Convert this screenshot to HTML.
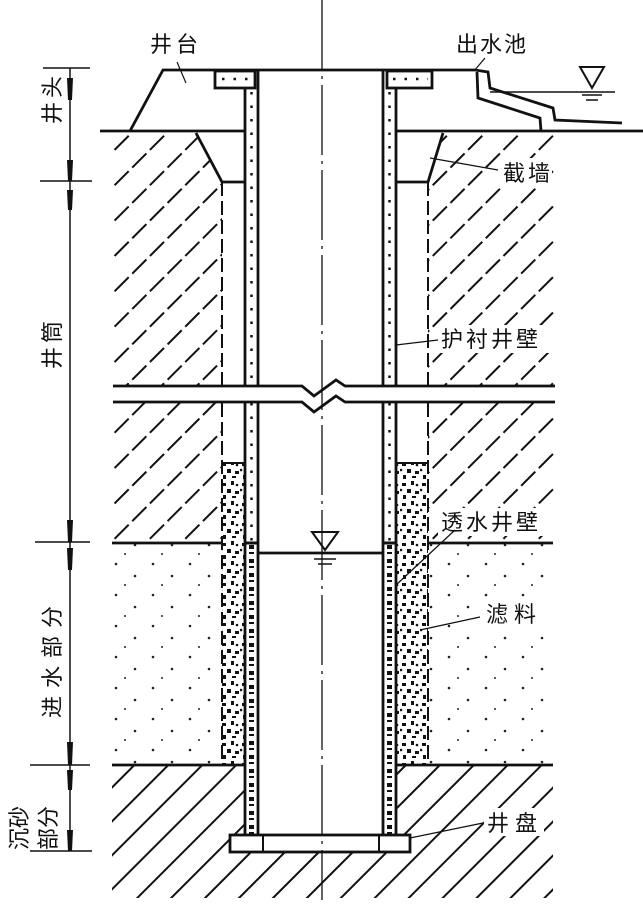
<!DOCTYPE html>
<html><head><meta charset="utf-8"><style>
html,body{margin:0;padding:0;background:#fff;}
svg{display:block}
text{font-family:"Liberation Sans","Noto Sans CJK SC",sans-serif;font-size:22px;fill:#111;}
</style></head><body>
<svg width="643" height="909" viewBox="0 0 643 909" xmlns="http://www.w3.org/2000/svg">
<defs>
<pattern id="hatch" width="25" height="25" patternUnits="userSpaceOnUse" patternTransform="rotate(-45)">
<line x1="0" y1="12" x2="20" y2="12" stroke="#111" stroke-width="2"/>
</pattern>
<pattern id="hatch2" width="24" height="24" patternUnits="userSpaceOnUse" patternTransform="rotate(-45) translate(8,0)">
<line x1="0" y1="12" x2="24" y2="12" stroke="#111" stroke-width="2"/>
</pattern>
<pattern id="gravel" width="20" height="20" patternUnits="userSpaceOnUse">
<rect x="2" y="3" width="4" height="3" fill="#111"/><rect x="11" y="1" width="3" height="4" fill="#111"/>
<rect x="7" y="9" width="4" height="4" fill="#111"/><rect x="15" y="11" width="4" height="3" fill="#111"/>
<rect x="3" y="15" width="3" height="4" fill="#111"/><rect x="12" y="16" width="4" height="2" fill="#111"/>
<circle cx="17" cy="5" r="1.3" fill="#111"/><circle cx="1" cy="10" r="1.3" fill="#111"/>
</pattern>
<pattern id="sand" width="37" height="31" patternUnits="userSpaceOnUse">
<circle cx="5" cy="6" r="1.3" fill="#222"/><circle cx="24" cy="18" r="1.3" fill="#222"/><circle cx="14" cy="27" r="1" fill="#222"/>
</pattern>
</defs>
<!-- hatch regions -->
<path d="M112,133 L196,133 L222,182 L222,386 L112,386 Z" fill="url(#hatch)"/>
<path d="M112,403 L222,403 L222,542 L112,542 Z" fill="url(#hatch)"/>
<path d="M443,133 L555,133 L555,386 L428,386 L428,182 Z" fill="url(#hatch)"/>
<path d="M428,403 L555,403 L555,542 L428,542 Z" fill="url(#hatch)"/>
<path d="M112,766 L245,766 L245,835 L230,835 L230,852 L410,852 L410,835 L396,835 L396,766 L553,766 L553,898 L112,898 Z" fill="url(#hatch2)"/>
<!-- sand -->
<rect x="112" y="544" width="110" height="220" fill="url(#sand)"/>
<rect x="428" y="544" width="125" height="220" fill="url(#sand)"/>
<!-- gravel -->
<rect x="222" y="463" width="23" height="302" fill="url(#gravel)"/>
<rect x="396" y="463" width="32" height="302" fill="url(#gravel)"/>
<!-- liner dots -->
<g stroke="#111" fill="none">
<path d="M251.5,92 V386 M251.5,403 V543 M389.5,92 V386 M389.5,403 V543" stroke-width="2.5" stroke-dasharray="2.5,11"/>
<path d="M251.5,545 V835 M389.5,545 V835" stroke-width="5" stroke-dasharray="4,3,2,5"/>
<path d="M222,79 H252 M393,79 H428" stroke-width="2.5" stroke-dasharray="2.5,9"/>
</g>
<g stroke="#111" fill="none" stroke-width="2.8">
<!-- top platform -->
<path d="M130,131 L163,70 L475,70 L488,72 L490,88 L553,108 L555,120 L622,123"/>
<path d="M477,72 L478,98 L540,118 L541,131"/>
<line x1="490" y1="92" x2="615" y2="92" stroke-width="1.5"/>
<path d="M580,67 L604,67 L592,88 Z" stroke-width="2"/>
<line x1="582" y1="95" x2="602" y2="95" stroke-width="1.5"/><line x1="586" y1="100" x2="598" y2="100" stroke-width="1.5"/>
<!-- ground -->
<line x1="100" y1="131" x2="245" y2="131"/>
<line x1="396" y1="131" x2="643" y2="131"/>
<!-- slabs -->
<rect x="215" y="71" width="40" height="17"/>
<rect x="387" y="71" width="45" height="17"/>
<!-- collars -->
<path d="M196,133 L222,182 L245,182"/>
<path d="M443,133 L428,182 L396,182"/>
<!-- well walls -->
<path d="M245,88 V386 M258,70 V386 M245,403 V835 M258,403 V835"/>
<path d="M383,70 V386 M396,88 V386 M383,403 V835 M396,403 V835"/>
<!-- dashed outer lines -->
<path d="M222,182 V386 M222,403 V765 M428,182 V386 M428,403 V765" stroke-width="2" stroke-dasharray="14,5"/>
<!-- filter top -->
<path d="M222,463 H245 M396,463 H428" stroke-width="2"/>
<!-- break lines -->
<path d="M113,386 L302,386 L314,396 L336,380 L345,386 L555,386"/>
<path d="M113,402 L302,402 L314,412 L336,396 L345,402 L555,402"/>
<!-- sand boundaries -->
<path d="M112,543 H222 M428,543 H553"/>
<path d="M112,765 H245 M396,765 H553"/>
<path d="M245,543 H258 M383,543 H396" stroke-width="3"/>
<!-- water level -->
<line x1="258" y1="553" x2="383" y2="553"/>
<path d="M312,532 L338,532 L325,550 Z" stroke-width="2"/>
<line x1="314" y1="559" x2="336" y2="559" stroke-width="1.5"/><line x1="318" y1="564" x2="332" y2="564" stroke-width="1.5"/>
<!-- bottom plate -->
<rect x="230" y="835" width="180" height="17"/>
<path d="M263,835 V852 M379,835 V852" stroke-width="2"/>
<!-- centerline -->
<path d="M322,0 V900" stroke-width="1.3" stroke-dasharray="70,6,3,6"/>
<!-- dimension line -->
<line x1="70" y1="68" x2="70" y2="851" stroke-width="1.5"/>
<path d="M43,68 H90 M40,181 H92 M35,542 H90 M30,765 H90 M30,851 H92" stroke-width="1.5"/>
</g>
<!-- label backgrounds -->
<g fill="#fff">
<rect x="500" y="158" width="52" height="28"/>
<rect x="438" y="325" width="120" height="28"/>
<rect x="438" y="508" width="120" height="28"/>
<rect x="484" y="600" width="60" height="28"/>
<rect x="484" y="808" width="60" height="28"/>
</g>
<g stroke="#111" fill="none" stroke-width="1.2">
<path d="M177,62 L186,83"/>
<path d="M485,58 L474,71"/>
<path d="M430,158 L498,170"/>
<path d="M396,345 L438,340"/>
<path d="M396,585 L455,530"/>
<path d="M420,630 L480,617"/>
<path d="M410,838 L483,823"/>
</g>
<g fill="#111">
<path d="M67,78 L73,78 L72,100 L68,100 Z M67,160 L73,160 L72,181 L68,181 Z M67,190 L73,190 L72,210 L68,210 Z M67,520 L73,520 L72,542 L68,542 Z M67,548 L73,548 L72,570 L68,570 Z M67,742 L73,742 L72,765 L68,765 Z M67,770 L73,770 L72,790 L68,790 Z M67,830 L73,830 L72,851 L68,851 Z"/>
</g>
<text x="150" y="52" letter-spacing="4">井台</text>
<text x="456" y="52" letter-spacing="2">出水池</text>
<text x="503" y="181" letter-spacing="3">截墙</text>
<text x="441" y="347" letter-spacing="3">护衬井壁</text>
<text x="441" y="530" letter-spacing="3">透水井壁</text>
<text x="486" y="622" letter-spacing="6">滤料</text>
<text x="487" y="831" letter-spacing="6">井盘</text>
<g transform="rotate(-90)">
<text x="-124" y="60" letter-spacing="4">井头</text>
<text x="-369" y="60" letter-spacing="4">井筒</text>
<text x="-718" y="60" letter-spacing="8">进水部分</text>
<text x="-850" y="27">沉砂</text>
<text x="-850" y="56">部分</text>
</g>
</svg>
</body></html>
